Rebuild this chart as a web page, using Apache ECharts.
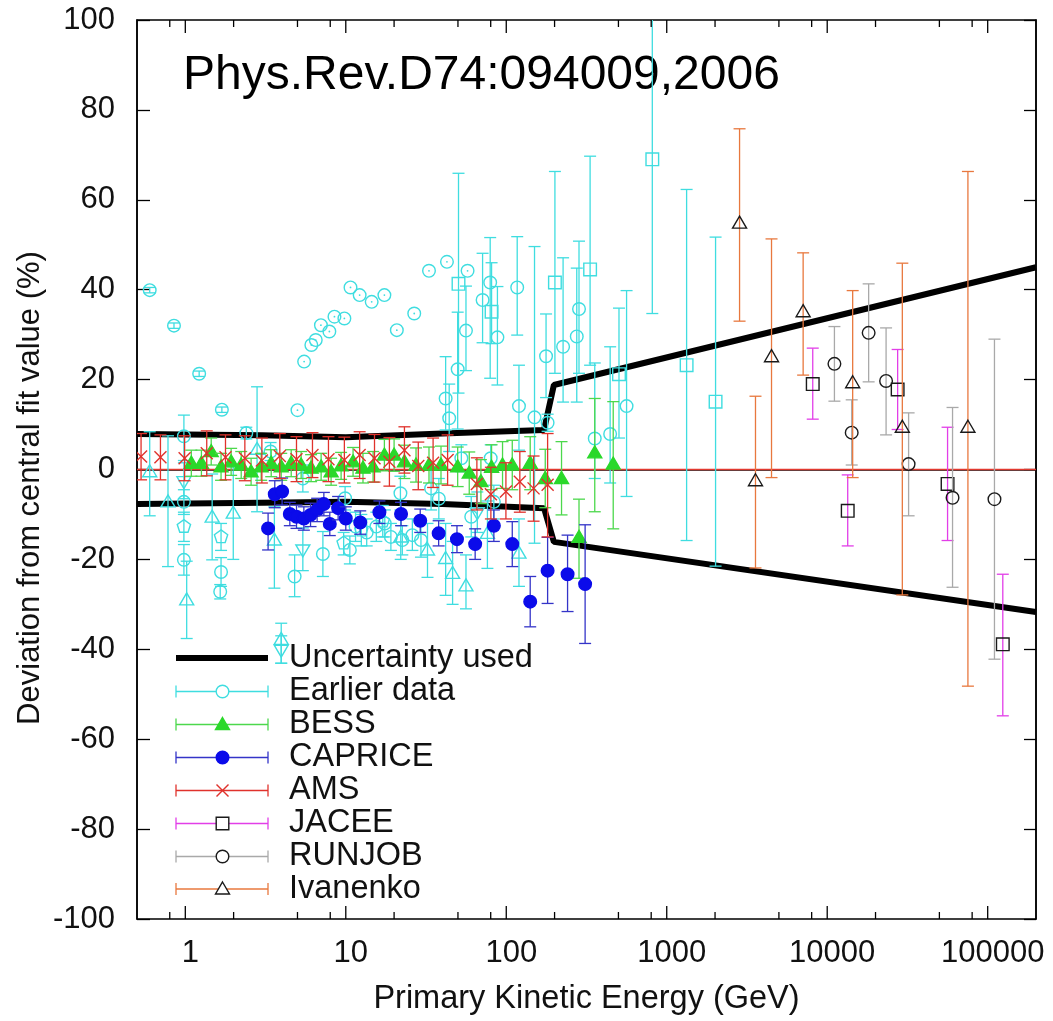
<!DOCTYPE html>
<html><head><meta charset="utf-8">
<script src="https://cdn.jsdelivr.net/npm/echarts@6/dist/echarts.min.js"></script>
<style>html,body{margin:0;padding:0;background:#fff}#c{width:1053px;height:1021px}</style>
</head><body><div id="c"></div>
<script>
const FONT = '"Liberation Sans", Arial, Helvetica, sans-serif';

// ---- axis tick values ----
const xMajorTicks = [1, 10, 100, 1000, 10000, 100000];
const xMinorTicks = [0.8, 2, 5, 8, 20, 50, 80, 200, 500, 800, 2000, 5000, 8000, 20000, 50000, 80000];

// ---- uncertainty band used (energy GeV, deviation %) ----
const bandUpper = [[0.5, 7.9], [3, 7.6], [10, 7.2], [40, 8.0], [172, 8.8], [198, 18.8], [200000, 45.0]];
const bandLower = [[0.5, -7.7], [3, -7.4], [10, -7.2], [40, -7.7], [172, -8.6], [198, -16.1], [200000, -31.7]];
const zeroLine = [[0.5, 0], [200000, 0]];

// ---- data rows: [energy GeV, deviation %, lower end of error bar, upper end of error bar] ----
const earlierCircle = [
  [0.60, 39.9, 39.3, 40.5], [0.85, 32.0, 31.4, 32.6], [1.22, 21.3, 20.7, 21.9], [1.69, 13.3, 12.7, 13.9],
  [0.98, 7.4, 2.0, 12.1], [0.98, -7.2, -10.0, -4.5], [0.98, -20.1, -23.5, -16.7],
  [1.67, -22.8, -26.0, -19.6], [1.65, -27.2, -28.8, -25.6], [2.4, 8.1, 6.8, 9.4], [3.4, 4.0, 2.0, 6.0],
  [4.8, -23.8, -28.3, -19.0], [5.4, -2.0, -5.0, 1.0], [7.2, -18.8, -23.8, -13.8],
  [5.0, 13.2, 13.2, 13.2], [5.5, 24.0, 24.0, 24.0], [6.1, 27.7, 27.7, 27.7], [6.5, 28.8, 28.8, 28.8],
  [7.0, 32.1, 32.1, 32.1], [7.9, 30.7, 30.7, 30.7], [8.5, 34.0, 34.0, 34.0], [9.8, 33.6, 33.6, 33.6],
  [10.7, 40.5, 40.5, 40.5], [12.2, 38.8, 38.8, 38.8], [14.5, 37.3, 37.3, 37.3], [17.4, 38.8, 38.8, 38.8],
  [20.8, 31.0, 31.0, 31.0], [26.7, 34.7, 34.7, 34.7], [33.0, 44.2, 44.2, 44.2], [42.7, 46.2, 46.2, 46.2],
  [57.4, 44.2, 44.2, 44.2],
  [9.9, -6.4, -9.0, -3.8], [10.6, -17.9, -21.0, -14.8], [11.5, -12.7, -16.0, -9.5], [13.5, -14.0, -17.0, -11.0],
  [15.5, -12.7, -16.0, -9.5], [17.5, -12.0, -15.0, -9.0], [19.1, -15.0, -18.0, -12.0], [21.9, -5.3, -9.0, -1.5],
  [22.5, -15.7, -19.0, -12.5], [26.0, -14.6, -18.0, -11.0], [29.4, -15.7, -19.5, -12.0], [34.0, -4.2, -9.0, 0.5],
  [38.0, -6.5, -11.0, -2.0], [60.5, -10.5, -15.0, -6.0], [52.5, 2.5, -0.5, 5.5], [80.0, 2.5, -0.5, 5.5],
  [83.7, -7.2, -11.0, -3.5],
  [41.9, 15.8, 8.8, 25.1], [44.1, 11.4, 4.0, 19.0], [49.8, 22.3, 9.0, 35.0], [56.1, 30.9, 22.0, 40.8],
  [71.2, 37.7, 28.2, 48.1], [79.4, 41.6, 20.3, 51.6], [88.1, 29.4, 18.8, 40.7], [117, 40.5, 29.9, 51.8],
  [120, 14.1, 4.3, 23.2], [150, 11.6, -16.4, 49.6], [181, 10.4, 8.5, 12.3], [177, 25.2, 16.0, 34.6],
  [226, 27.3, 15.0, 47.1], [275, 29.6, 15.0, 44.8], [284, 35.7, 21.4, 50.8], [356, 6.9, -2.0, 23.7],
  [444, 7.9, -3.0, 27.3], [562, 14.1, -6.0, 39.8]
];
const earlierSquare = [
  [50.4, 41.3, 17.0, 65.9], [81.0, 35.1, 28.0, 46.0], [201, 41.6, 21.4, 66.3], [333, 44.5, 23.2, 69.7],
  [504, 21.2, 7.0, 35.9], [813, 69.0, 34.7, 110], [1330, 23.2, -15.8, 62.3], [2015, 15.1, -21.5, 51.7]
];
const earlierTriangle = [
  [0.60, -0.5, -10.3, 8.4], [0.78, -7.2, -21.6, 7.5], [1.02, -29.0, -37.6, -20.4], [1.47, -10.6, -20.1, -1.0],
  [1.99, -9.7, -20.0, 0.6], [2.8, 4.5, -9.4, 18.4], [3.59, -15.7, -26.4, -8.3], [3.96, -37.8, -43.1, -34.2],
  [22, -15.0, -20.0, -10.0], [32.3, -17.9, -24.0, -12.0], [41.9, -19.8, -28.0, -12.0], [46.3, -23.1, -30.0, -16.0],
  [56.1, -25.9, -31.0, -19.0], [76.3, -14.2, -22.0, -7.0], [120, -18.6, -26.0, -11.0]
];
const earlierDownTriangle = [
  [0.98, -2.7, -6.5, 1.5], [5.4, -17.9, -22.5, -13.0], [3.96, -40.2, -43.1, -37.0], [66, -9.6, -14.0, -5.0]
];
const earlierPentagon = [
  [0.98, -12.7, -16.0, -9.5], [1.67, -15.0, -18.0, -12.0], [9.7, -16.4, -19.0, -14.0],
  [12.5, -13.5, -17.0, -10.0], [17.0, -11.5, -15.0, -8.0]
];
const bessData = [
  [1.09, 1.4, -1.5, 4.3], [1.26, 1.4, -1.5, 4.3], [1.45, 4.0, 1.0, 7.0], [1.67, 0.6, -2.4, 3.6],
  [1.93, 1.7, -1.3, 4.7], [2.23, 1.0, -2.0, 4.0], [2.57, -0.5, -3.5, 2.5], [2.97, 0.6, -2.4, 3.6],
  [3.43, 1.4, -1.6, 4.4], [3.96, 0.6, -2.4, 3.6], [4.57, 1.4, -1.6, 4.4], [5.27, 1.0, -2.0, 4.0],
  [6.08, 0.3, -2.7, 3.3], [7.02, 0.6, -2.4, 3.6], [8.1, -0.5, -3.5, 2.5], [9.35, 0.8, -2.2, 3.8],
  [11.1, 1.7, -1.5, 4.9], [12.8, 0.3, -3.0, 3.6], [14.8, 0.6, -2.8, 4.0], [17.4, 3.2, -0.3, 6.7],
  [20.0, 3.2, -0.4, 6.8], [23.2, 1.7, -2.0, 5.4], [27.4, 1.0, -2.8, 4.8], [33.0, 1.0, -3.0, 5.0],
  [39.2, 1.0, -3.2, 5.2], [49.8, 0.6, -3.8, 5.0], [58.8, -0.8, -5.5, 3.9], [69.5, -2.7, -7.6, 2.2],
  [81, 0.5, -4.5, 5.5], [94.8, 1.0, -4.2, 6.2], [109, 1.0, -4.5, 6.5], [141, 1.4, -4.5, 7.3],
  [175, -2.0, -8.5, 4.5], [221, -2.0, -10.1, 6.2], [284, -15.1, -24.2, -6.6], [356, 3.7, -9.4, 15.8],
  [464, 1.2, -13.2, 15.1]
];
const capriceData = [
  [3.28, -13.1, -17.9, -9.7], [3.61, -5.5, -8.5, -2.5], [4.01, -4.9, -7.9, -1.9], [4.48, -9.9, -12.5, -7.3],
  [4.93, -10.5, -13.1, -7.9], [5.48, -10.9, -13.5, -8.3], [6.03, -10.1, -12.7, -7.5], [6.63, -9.0, -11.6, -6.4],
  [7.30, -7.7, -10.3, -5.1], [7.95, -12.1, -14.7, -9.5], [8.96, -8.6, -11.2, -6.0], [10.0, -10.9, -13.5, -8.3],
  [12.3, -11.8, -14.4, -9.2], [16.2, -9.5, -12.0, -7.0], [22.1, -9.9, -12.5, -7.3], [29.1, -11.4, -14.0, -8.8],
  [37.9, -14.2, -17.0, -11.4], [49.3, -15.5, -18.5, -12.5], [64.0, -16.6, -20.0, -13.2], [83.7, -12.5, -16.0, -9.0],
  [109, -16.6, -21.6, -11.6], [141, -29.4, -35.0, -23.8], [181, -22.5, -29.8, -15.1], [241, -23.3, -31.6, -14.6],
  [310, -25.5, -38.7, -12.3]
];
const amsData = [
  [0.53, 2.9, -2.3, 8.0], [0.70, 2.7, -2.3, 7.7], [0.99, 2.5, -2.5, 7.5], [1.36, 3.6, -1.4, 8.6],
  [1.78, 2.7, -2.3, 7.7], [2.35, 2.5, -2.5, 7.5], [3.0, 2.0, -3.0, 7.0], [3.88, 3.0, -2.0, 8.0],
  [4.93, 2.3, -2.7, 7.3], [6.2, 3.2, -1.8, 8.2], [7.8, 2.3, -2.7, 7.3], [9.8, 2.1, -3.0, 7.2],
  [12.2, 3.2, -2.0, 8.4], [15.1, 2.5, -2.8, 7.8], [18.7, 1.7, -3.7, 7.1], [23.2, 4.3, -0.8, 9.5],
  [28.3, 0.8, -4.5, 6.1], [35.0, 1.5, -4.0, 7.0], [43.1, 2.1, -3.5, 7.7], [65.6, -3.2, -9.0, 2.6],
  [80.2, -5.5, -11.0, 0.5], [99.5, -4.9, -11.0, 1.5], [121.5, -2.7, -9.5, 4.0], [148, -4.2, -11.5, 3.0],
  [181, -3.4, -15.0, 8.0]
];
const jaceeData = [
  [8125, 19.0, 11.2, 27.0], [13420, -9.2, -17.0, -1.2], [27470, 17.8, 8.9, 26.7],
  [56230, -3.2, -15.8, 9.4], [124200, -38.9, -54.8, -23.3]
];
const runjobData = [
  [11090, 23.5, 15.2, 31.8], [14210, 8.2, 1.0, 15.5], [18120, 30.4, 19.5, 41.3], [23270, 19.7, 7.7, 31.5],
  [32150, 1.2, -10.3, 12.6], [60390, -6.3, -26.2, 13.8], [110200, -6.6, -42.2, 29.0]
];
const ivanenkoData = [
  [2843, 54.8, 33.0, 75.8], [3573, -2.5, -21.9, 16.3], [4497, 25.1, -1.8, 51.3], [7079, 35.1, 21.0, 48.2],
  [14410, 19.3, -1.8, 39.8], [29380, 9.4, -27.9, 45.9], [75300, 9.4, -48.2, 66.3]
];

const legendNames = ['Uncertainty used', 'Earlier data', 'BESS', 'CAPRICE', 'AMS', 'JACEE', 'RUNJOB', 'Ivanenko'];

// ---- colours ----
const C = {
  cyan: '#3fdde0', green: '#2ad82a', greenBar: '#4cd84c', blue: '#0b0bea', blueBar: '#3434c8',
  red: '#e0322c', magenta: '#e23ee8', gray: '#a9a9a9', orange: '#e8783e', black: '#1a1a1a'
};

function marker(shape, cx, cy, stroke, fill) {
  const r = 6.3;
  const style = { stroke: stroke, fill: fill || 'none', lineWidth: 1.4 };
  if (shape === 'circle') return { type: 'circle', shape: { cx: cx, cy: cy, r: r }, style: style };
  if (shape === 'square') return { type: 'rect', shape: { x: cx - r, y: cy - r, width: 2 * r, height: 2 * r }, style: style };
  if (shape === 'tri') return { type: 'polygon', shape: { points: [[cx, cy - 7], [cx + 7, cy + 5], [cx - 7, cy + 5]] }, style: style };
  if (shape === 'down') return { type: 'polygon', shape: { points: [[cx, cy + 7], [cx + 7, cy - 5], [cx - 7, cy - 5]] }, style: style };
  if (shape === 'pent') {
    const pts = [];
    for (let i = 0; i < 5; i++) { const a = -Math.PI / 2 + i * 2 * Math.PI / 5; pts.push([cx + 7 * Math.cos(a), cy + 7 * Math.sin(a)]); }
    return { type: 'polygon', shape: { points: pts }, style: style };
  }
  if (shape === 'x') {
    return { type: 'group', children: [
      { type: 'line', shape: { x1: cx - 6, y1: cy - 6, x2: cx + 6, y2: cy + 6 }, style: { stroke: stroke, lineWidth: 1.4 } },
      { type: 'line', shape: { x1: cx - 6, y1: cy + 6, x2: cx + 6, y2: cy - 6 }, style: { stroke: stroke, lineWidth: 1.4 } }
    ] };
  }
  return null;
}

function errSeries(name, data, shape, barColor, markStroke, markFill) {
  return {
    type: 'custom', name: name, data: data, clip: true,
    encode: { x: 0, y: 1 },
    renderItem: function (params, api) {
      const e = api.value(0), v = api.value(1), lo = api.value(2), hi = api.value(3);
      const p = api.coord([e, v]);
      const pl = api.coord([e, lo]), ph = api.coord([e, hi]);
      const cw = 6;
      const ls = { stroke: barColor, lineWidth: 1.3 };
      const ch = [];
      if (hi > lo) {
        ch.push({ type: 'line', shape: { x1: p[0], y1: pl[1], x2: p[0], y2: ph[1] }, style: ls });
        ch.push({ type: 'line', shape: { x1: p[0] - cw, y1: pl[1], x2: p[0] + cw, y2: pl[1] }, style: ls });
        ch.push({ type: 'line', shape: { x1: p[0] - cw, y1: ph[1], x2: p[0] + cw, y2: ph[1] }, style: ls });
      } else {
        ch.push({ type: 'circle', shape: { cx: p[0], cy: p[1], r: 0.9 }, style: { fill: barColor } });
      }
      ch.push(marker(shape, p[0], p[1], markStroke, markFill));
      return { type: 'group', children: ch };
    }
  };
}

const tickData = xMajorTicks.map(v => [v, 1]).concat(xMinorTicks.map(v => [v, 0]));

const chart = echarts.init(document.getElementById('c'), null, { renderer: 'canvas' });

// legend (drawn as graphic elements)
const legendRowsY = [658, 691.5, 724.5, 757.5, 790.5, 823.5, 856.5, 889];
const legendStyle = [
  null,
  ['circle', C.cyan, C.cyan, null],
  ['tri', C.greenBar, C.green, C.green],
  ['circle', C.blueBar, C.blue, C.blue],
  ['x', C.red, C.red, null],
  ['square', C.magenta, C.black, null],
  ['circle', C.gray, C.black, null],
  ['tri', C.orange, C.black, null]
];
const legendGraphic = [];
legendNames.forEach((nm, i) => {
  const y = legendRowsY[i];
  if (i === 0) {
    legendGraphic.push({ type: 'line', shape: { x1: 176, y1: y, x2: 268, y2: y }, style: { stroke: '#000', lineWidth: 6 } });
  } else {
    const s = legendStyle[i];
    const ls = { stroke: s[1], lineWidth: 1.3 };
    legendGraphic.push({ type: 'line', shape: { x1: 176, y1: y, x2: 268, y2: y }, style: ls });
    legendGraphic.push({ type: 'line', shape: { x1: 176, y1: y - 6, x2: 176, y2: y + 6 }, style: ls });
    legendGraphic.push({ type: 'line', shape: { x1: 268, y1: y - 6, x2: 268, y2: y + 6 }, style: ls });
    const m = marker(s[0], 222.5, y, s[2], s[3] || '#fff');
    legendGraphic.push(m);
  }
  legendGraphic.push({ type: 'text', x: 289, y: y, style: { text: nm, font: '32.5px ' + FONT, fill: '#111', textAlign: 'left', textVerticalAlign: 'middle' } });
});

const option = {
  animation: false,
  backgroundColor: '#fff',
  grid: { left: 137, right: 17, top: 20, bottom: 102, show: true, borderColor: '#000', borderWidth: 1.5, backgroundColor: 'transparent' },
  xAxis: {
    type: 'log', logBase: 10, min: 0.5, max: 200000,
    axisLine: { show: true, lineStyle: { color: '#000', width: 1.5 } },
    axisTick: { show: false }, splitLine: { show: false }, minorTick: { show: false },
    axisLabel: {
      fontSize: 31, fontFamily: FONT, color: '#111', margin: 19, padding: [0, 0, 0, 10],
      formatter: function (v) {
        const l = Math.log10(v);
        return Math.abs(l - Math.round(l)) < 1e-6 ? String(Math.round(Math.pow(10, Math.round(l)))) : '';
      }
    },
    name: 'Primary Kinetic Energy (GeV)', nameLocation: 'middle', nameGap: 64,
    nameTextStyle: { fontSize: 32.5, fontFamily: FONT, color: '#111' }
  },
  yAxis: [{
    type: 'value', min: -100, max: 100, interval: 20, position: 'left',
    axisLine: { show: true, lineStyle: { color: '#000', width: 1.5 } },
    axisTick: { show: true, inside: true, length: 13, lineStyle: { color: '#000', width: 1.3 } },
    splitLine: { show: false },
    axisLabel: { fontSize: 31, fontFamily: FONT, color: '#111', margin: 22 }
  }, {
    type: 'value', min: -100, max: 100, interval: 20, position: 'right',
    axisLine: { show: true, lineStyle: { color: '#000', width: 1.5 } },
    axisTick: { show: true, inside: true, length: 12, lineStyle: { color: '#000', width: 1.3 } },
    splitLine: { show: false }, axisLabel: { show: false }
  }],
  graphic: [
    { type: 'text', x: 183, y: 76, style: { text: 'Phys.Rev.D74:094009,2006', font: '48px ' + FONT, fill: '#000', textAlign: 'left', textVerticalAlign: 'middle' } },
    { type: 'text', x: 30, y: 488, rotation: Math.PI / 2, style: { text: 'Deviation from central fit value (%)', font: '31px ' + FONT, fill: '#111', textAlign: 'center', textVerticalAlign: 'middle' } },
    { type: 'group', z: 100, children: legendGraphic }
  ],
  series: [
    {
      type: 'custom', name: 'ticks', data: tickData, clip: false, z: 5,
      renderItem: function (params, api) {
        const x = api.coord([api.value(0), 0])[0];
        const yb = api.coord([1, -100])[1], yt = api.coord([1, 100])[1];
        const len = api.value(1) ? 13 : 7;
        const st = { stroke: '#000', lineWidth: 1.3 };
        return { type: 'group', children: [
          { type: 'line', shape: { x1: x, y1: yb, x2: x, y2: yb - len }, style: st },
          { type: 'line', shape: { x1: x, y1: yt, x2: x, y2: yt + len }, style: st }
        ] };
      }
    },
    { type: 'line', name: 'zero', data: zeroLine, symbol: 'none', lineStyle: { color: '#e23a30', width: 1.3 }, z: 1 },
    { type: 'line', name: 'Uncertainty used', data: bandUpper, symbol: 'none', lineStyle: { color: '#000', width: 6 }, z: 1 },
    { type: 'line', name: 'Uncertainty used', data: bandLower, symbol: 'none', lineStyle: { color: '#000', width: 6 }, z: 1 },
    errSeries('Earlier data', earlierCircle, 'circle', C.cyan, C.cyan, null),
    errSeries('Earlier data', earlierSquare, 'square', C.cyan, C.cyan, null),
    errSeries('Earlier data', earlierTriangle, 'tri', C.cyan, C.cyan, null),
    errSeries('Earlier data', earlierDownTriangle, 'down', C.cyan, C.cyan, null),
    errSeries('Earlier data', earlierPentagon, 'pent', C.cyan, C.cyan, null),
    errSeries('BESS', bessData, 'tri', C.greenBar, C.green, C.green),
    errSeries('CAPRICE', capriceData, 'circle', C.blueBar, C.blue, C.blue),
    errSeries('AMS', amsData, 'x', C.red, C.red, null),
    errSeries('JACEE', jaceeData, 'square', C.magenta, C.black, null),
    errSeries('RUNJOB', runjobData, 'circle', C.gray, C.black, null),
    errSeries('Ivanenko', ivanenkoData, 'tri', C.orange, C.black, null)
  ]
};
chart.setOption(option);
</script></body></html>
